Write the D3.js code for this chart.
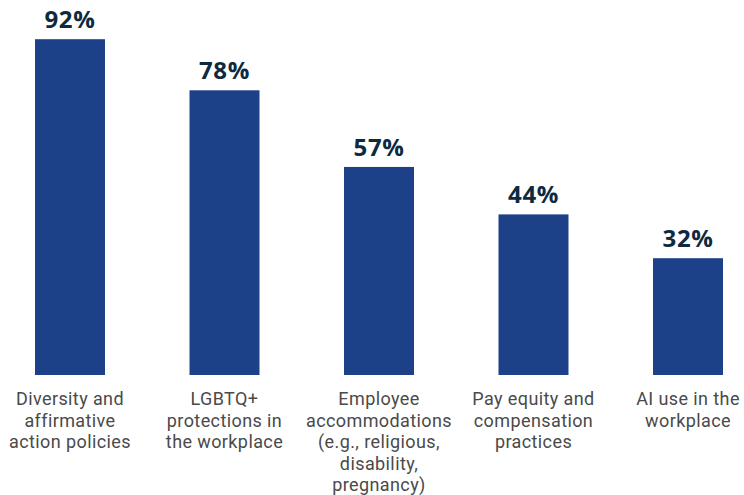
<!DOCTYPE html>
<html>
<head>
<meta charset="utf-8">
<script src="https://cdn.jsdelivr.net/npm/d3@7"></script>
<style>
  html, body { margin: 0; padding: 0; background: #ffffff; }
  svg { display: block; }
</style>
</head>
<body>
<script>
// Survey topics and share of respondents
const categories = [
  "Diversity and affirmative action policies",
  "LGBTQ+ protections in the workplace",
  "Employee accommodations (e.g., religious, disability, pregnancy)",
  "Pay equity and compensation practices",
  "AI use in the workplace"
];
const categoryLines = [
  ["Diversity and", "affirmative", "action policies"],
  ["LGBTQ+", "protections in", "the workplace"],
  ["Employee", "accommodations", "(e.g., religious,", "disability,", "pregnancy)"],
  ["Pay equity and", "compensation", "practices"],
  ["AI use in the", "workplace"]
];
const values = [92, 78, 57, 44, 32];

const width = 744, height = 495;
const baseline = 375;

const svg = d3.select("body").append("svg")
  .attr("width", width)
  .attr("height", height);

const x = d3.scaleBand()
  .domain(categories)
  .range([35, 723])
  .paddingInner(0.547)
  .paddingOuter(0);

const y = d3.scaleLinear()
  .domain([0, 100])
  .range([baseline, 10]);

const data = categories.map((c, i) => ({ cat: c, value: values[i], lines: categoryLines[i] }));

// Bars
svg.append("g").selectAll("rect")
  .data(data)
  .join("rect")
  .attr("x", d => x(d.cat))
  .attr("y", d => y(d.value))
  .attr("width", x.bandwidth())
  .attr("height", d => y(0) - y(d.value))
  .attr("fill", "#1c4188");

// Value labels above bars
svg.append("g").selectAll("text")
  .data(data)
  .join("text")
  .attr("x", d => x(d.cat) + x.bandwidth() / 2)
  .attr("y", d => y(d.value) - 11)
  .attr("text-anchor", "middle")
  .attr("font-family", "'Open Sans', sans-serif")
  .attr("font-weight", 700)
  .attr("font-size", 24)
  .attr("letter-spacing", 0.6)
  .attr("fill", "#0e2a40")
  .text(d => d.value + "%");

// Category labels below the baseline
const cat = svg.append("g").selectAll("text")
  .data(data)
  .join("text")
  .attr("text-anchor", "middle")
  .attr("font-family", "Roboto, sans-serif")
  .attr("font-size", 18)
  .attr("letter-spacing", 0.4)
  .attr("fill", "#4a4a4a");

cat.selectAll("tspan")
  .data(d => d.lines.map((l, i) => ({ l, i, cx: x(d.cat) + x.bandwidth() / 2 })))
  .join("tspan")
  .attr("x", t => t.cx)
  .attr("y", t => 405 + t.i * 21.5)
  .text(t => t.l);
</script>
</body>
</html>
